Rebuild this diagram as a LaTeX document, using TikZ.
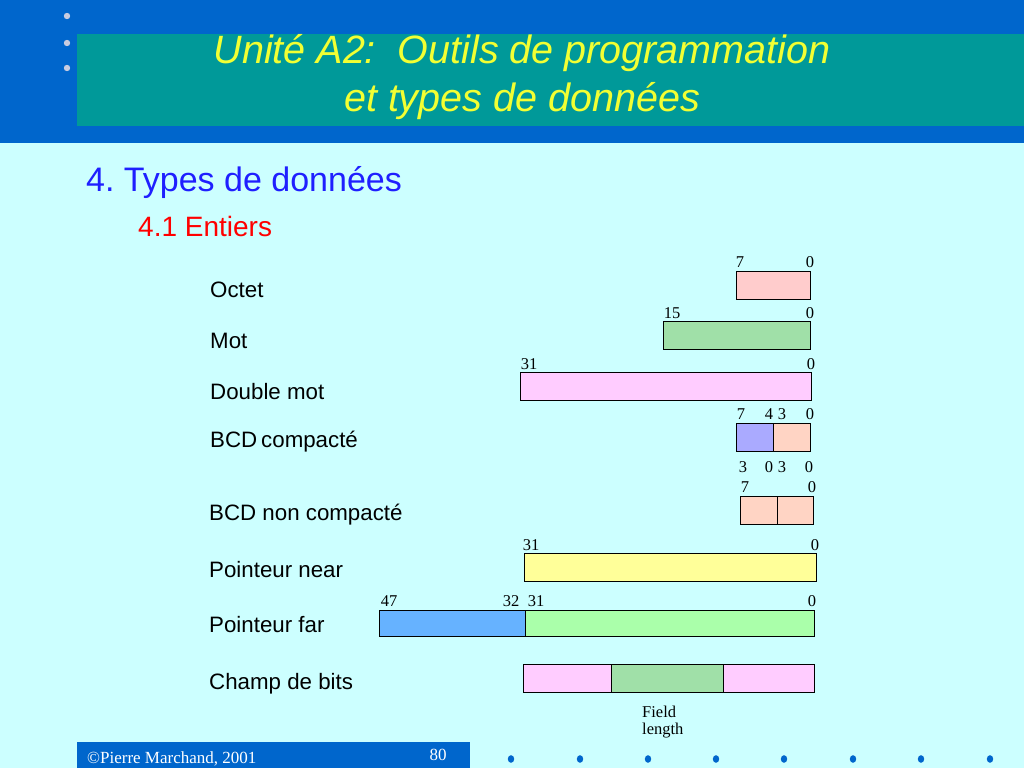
\documentclass[tikz,border=0pt]{standalone}
\usepackage{fontspec}
\setmainfont{Liberation Sans}
\newfontfamily\serifnum{Liberation Serif}
\begin{document}
\begin{tikzpicture}[x=1pt,y=-1pt,
  bx/.style={draw=black,line width=1.2pt,inner sep=0pt,anchor=north west},
  num/.style={font=\serifnum\fontsize{16.5}{16.5}\selectfont,inner sep=0pt},
  lbl/.style={font=\fontsize{22.3}{22.3}\selectfont,inner sep=0pt,anchor=west}]
\definecolor{bgc}{HTML}{CCFFFF}
\definecolor{bandc}{HTML}{0066CC}
\definecolor{tealc}{HTML}{009999}
\definecolor{titc}{HTML}{F2FF33}
\definecolor{dotc}{HTML}{C8CCE0}
\definecolor{secc}{HTML}{1F1FFF}
\definecolor{subc}{HTML}{FF0000}
\definecolor{pinkc}{HTML}{FFCCCC}
\definecolor{greenc}{HTML}{A0E0A8}
\definecolor{magc}{HTML}{FFCCFF}
\definecolor{violc}{HTML}{AAAAFF}
\definecolor{peachc}{HTML}{FFD4C4}
\definecolor{yelc}{HTML}{FFFF99}
\definecolor{bluec}{HTML}{66B2FF}
\definecolor{lgreenc}{HTML}{AAFFAA}
\useasboundingbox (0,0) rectangle (1024,768);
\fill[bgc] (0,0) rectangle (1024,768);
% header
\fill[bandc] (0,0) rectangle (1024,143);
\fill[tealc] (77,34) rectangle (1024,126);
\foreach \yy in {16,43,68} \fill[dotc] (67,\yy) circle (3.2);
\node[font=\itshape\fontsize{39.5}{39.5}\selectfont,text=titc,inner sep=0pt] (t1) at (522,53) {Unité A2:\ \ Outils de programmation};
\node[font=\itshape\fontsize{39.5}{39.5}\selectfont,text=titc,inner sep=0pt] (t2) at (522,101) {et types de données};
% headings
\node[font=\fontsize{34}{34}\selectfont,text=secc,inner sep=0pt,anchor=west] (h1) at (86,183) {4.\ Types de données};
\node[font=\fontsize{28}{28}\selectfont,text=subc,inner sep=0pt,anchor=west] (h2) at (138,226) {4.1 Entiers};
% labels
\node[lbl] (l1) at (210,290) {Octet};
\node[lbl] (l2) at (210,341) {Mot};
\node[lbl] (l3) at (210,392) {Double mot};
\node[lbl] (l4) at (210,440) {BCD};
\node[lbl] (l4b) at (261,442) {compacté};
\node[lbl] (l5) at (209,515) {BCD non compacté};
\node[lbl] (l6) at (209,570) {Pointeur near};
\node[lbl] (l7) at (209,625) {Pointeur far};
\node[lbl] (l8) at (209,684) {Champ de bits};
% Octet
\node[bx,fill=pinkc,minimum width=74,minimum height=28] (b1) at (736,271) {};
\node[num] (n1a) at (740,262) {7};
\node[num] (n1b) at (810,262) {0};
% Mot
\node[bx,fill=greenc,minimum width=147,minimum height=28] (b2) at (663,321) {};
\node[num] (n2a) at (672,313) {15};
\node[num] (n2b) at (810,313) {0};
% Double mot
\node[bx,fill=magc,minimum width=291,minimum height=28] (b3) at (520,372) {};
\node[num] (n3a) at (529,364) {31};
\node[num] (n3b) at (811,364) {0};
% BCD compacte
\node[bx,fill=violc,minimum width=37,minimum height=28] (b4a) at (736,423) {};
\node[bx,fill=peachc,minimum width=37,minimum height=28] (b4b) at (773,423) {};
\node[num] (n4a) at (741,414) {7};
\node[num] (n4b) at (769,414) {4};
\node[num] (n4c) at (782,414) {3};
\node[num] (n4d) at (810,414) {0};
\node[num] (n4e) at (743,467) {3};
\node[num] (n4f) at (769,467) {0};
\node[num] (n4g) at (782,467) {3};
\node[num] (n4h) at (809,467) {0};
% BCD non compacte
\node[bx,fill=peachc,minimum width=37,minimum height=28] (b5a) at (740,496) {};
\node[bx,fill=peachc,minimum width=36,minimum height=28] (b5b) at (777,496) {};
\node[num] (n5a) at (745,487) {7};
\node[num] (n5b) at (812,487) {0};
% Pointeur near
\node[bx,fill=yelc,minimum width=292,minimum height=28] (b6) at (524,553) {};
\node[num] (n6a) at (531,545) {31};
\node[num] (n6b) at (815,545) {0};
% Pointeur far
\node[bx,fill=bluec,minimum width=146,minimum height=26] (b7a) at (379,610) {};
\node[bx,fill=lgreenc,minimum width=289,minimum height=26] (b7b) at (525,610) {};
\node[num] (n7a) at (389,601) {47};
\node[num] (n7b) at (511,601) {32};
\node[num] (n7c) at (536,601) {31};
\node[num] (n7d) at (812,601) {0};
% Champ de bits
\node[bx,fill=magc,minimum width=88,minimum height=28] (b8a) at (523,664) {};
\node[bx,fill=greenc,minimum width=112,minimum height=28] (b8b) at (611,664) {};
\node[bx,fill=magc,minimum width=91,minimum height=28] (b8c) at (723,664) {};
\node[num,anchor=west] (fl1) at (642,712) {Field};
\node[num,anchor=west] (fl2) at (642,731) {length};
% footer
\fill[bandc] (77,742) rectangle (470,768);
\node[font=\serifnum\fontsize{17}{17}\selectfont,text=white,inner sep=0pt,anchor=west] (cp) at (87,759) {©Pierre Marchand, 2001};
\node[font=\serifnum\fontsize{17}{17}\selectfont,text=white,inner sep=0pt] (pg) at (438,755) {80};
\foreach \xx in {511,580,648,716,784,853,921,990} \fill[bandc] (\xx,759) ellipse (3.2 and 3.8);
\end{tikzpicture}
\end{document}
